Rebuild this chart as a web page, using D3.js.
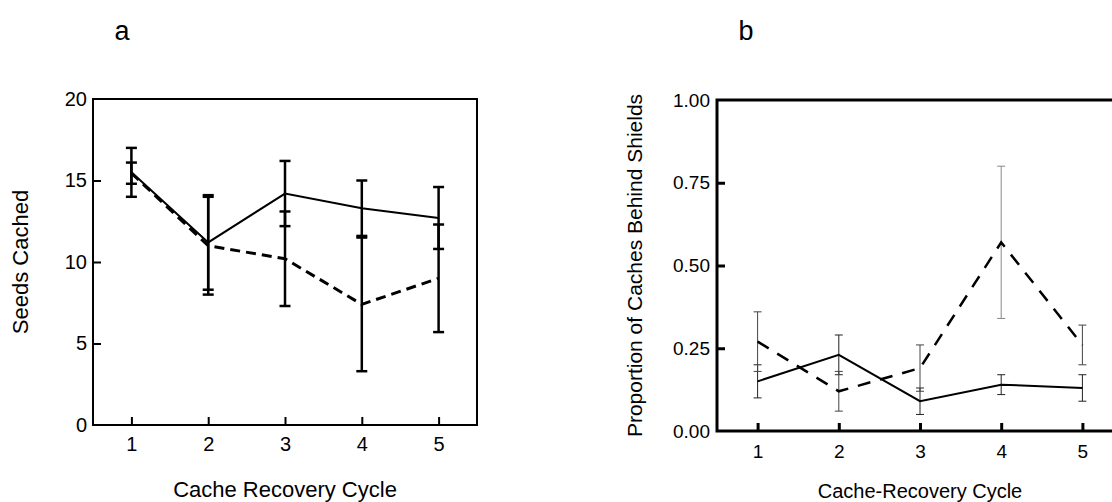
<!DOCTYPE html>
<html>
<head>
<meta charset="utf-8">
<script src="https://cdn.jsdelivr.net/npm/d3@7"></script>
<style>
  html, body { margin: 0; padding: 0; background: #fff; }
  svg { display: block; font-family: "Liberation Sans", Arial, sans-serif; }
</style>
</head>
<body>
<svg id="chart" width="1112" height="502"></svg>
<script>
// ---------- data ----------
const cycles = [1, 2, 3, 4, 5];

// panel a: seeds cached
const seedsSolid     = [15.5, 11.2, 14.2, 13.3, 12.7];
const seedsSolidErr  = [1.5, 2.9, 2.0, 1.7, 1.9];
const seedsDashed    = [15.45, 11.0, 10.2, 7.4, 9.0];
const seedsDashedErr = [0.65, 3.0, 2.9, 4.1, 3.3];
const seedsTicks     = [0, 5, 10, 15, 20];

// panel b: proportion of caches behind shields
const propSolid     = [0.15, 0.23, 0.09, 0.14, 0.13];
const propSolidErr  = [0.05, 0.06, 0.04, 0.03, 0.04];
const propDashed    = [0.27, 0.12, 0.19, 0.57, 0.26];
const propDashedErr = [0.09, 0.06, 0.07, 0.23, 0.06];
const propTicks     = [0, 0.25, 0.5, 0.75, 1.0];

const svg = d3.select("#chart");
svg.append("rect").attr("width", 1112).attr("height", 502).attr("fill", "#fff");

function panel(opt) {
  const g = svg.append("g");
  const x = d3.scaleLinear().domain([0.5, 5.5]).range([opt.left, opt.right]);
  const y = d3.scaleLinear().domain(opt.yDomain).range([opt.bottom, opt.top]);

  // y axis ticks (inward)
  const ya = g.append("g").attr("transform", `translate(${opt.left},0)`)
    .call(d3.axisLeft(y).tickValues(opt.yTicks).tickFormat(opt.yFormat)
      .tickSize(-opt.tickLen).tickPadding(opt.yPad));
  ya.select(".domain").remove();
  ya.selectAll(".tick line").attr("stroke", "#000").attr("stroke-width", opt.frameW)
    .filter(d => d === opt.yDomain[0] || d === opt.yDomain[1]).remove();
  ya.selectAll(".tick text").attr("font-size", opt.tickFont).attr("fill", "#000")
    .attr("font-family", "Liberation Sans, Arial, sans-serif");

  // x axis ticks (inward)
  const xa = g.append("g").attr("transform", `translate(0,${opt.bottom})`)
    .call(d3.axisBottom(x).tickValues(cycles).tickFormat(d3.format("d"))
      .tickSize(-opt.tickLen).tickPadding(opt.xPad));
  xa.select(".domain").remove();
  xa.selectAll(".tick line").attr("stroke", "#000").attr("stroke-width", opt.frameW);
  xa.selectAll(".tick text").attr("font-size", opt.tickFont).attr("fill", "#000")
    .attr("font-family", "Liberation Sans, Arial, sans-serif");

  // frame
  g.append("rect")
    .attr("x", opt.left).attr("y", opt.top)
    .attr("width", opt.right - opt.left).attr("height", opt.bottom - opt.top)
    .attr("fill", "none").attr("stroke", "#000").attr("stroke-width", opt.frameW);

  // error bars
  function errBars(vals, errs, colorFn, w) {
    const eg = g.append("g");
    cycles.forEach((c, i) => {
      const cx = x(c), y1 = y(vals[i] + errs[i]), y0 = y(vals[i] - errs[i]);
      const col = colorFn(i);
      eg.append("line").attr("x1", cx).attr("x2", cx).attr("y1", y1).attr("y2", y0)
        .attr("stroke", col).attr("stroke-width", w);
      [y1, y0].forEach(yy => eg.append("line")
        .attr("x1", cx - opt.capW / 2).attr("x2", cx + opt.capW / 2)
        .attr("y1", yy).attr("y2", yy).attr("stroke", col).attr("stroke-width", w));
    });
  }
  errBars(opt.solid, opt.solidErr, opt.solidErrColor, opt.errW);
  errBars(opt.dashed, opt.dashedErr, opt.dashedErrColor, opt.errW);

  const line = d3.line().x((d, i) => x(cycles[i])).y(d => y(d));
  g.append("path").datum(opt.dashed).attr("d", line).attr("fill", "none")
    .attr("stroke", "#000").attr("stroke-width", opt.dashW)
    .attr("stroke-dasharray", opt.dash);
  g.append("path").datum(opt.solid).attr("d", line).attr("fill", "none")
    .attr("stroke", "#000").attr("stroke-width", opt.solidW);

  // titles
  g.append("text").attr("x", opt.xTitleX(x)).attr("y", opt.xTitleY)
    .attr("text-anchor", "middle").attr("font-size", opt.xTitleFont).text(opt.xTitle);
  g.append("text")
    .attr("transform", `translate(${opt.yTitleX},${(opt.top + opt.bottom) / 2}) rotate(-90)`)
    .attr("text-anchor", "middle").attr("font-size", opt.yTitleFont).text(opt.yTitle);
  g.append("text").attr("x", opt.letterX).attr("y", 40).attr("text-anchor", "middle")
    .attr("font-size", 27).text(opt.letter);
}

panel({
  left: 93, right: 477, top: 99, bottom: 425,
  yDomain: [0, 20], yTicks: seedsTicks, yFormat: d3.format("d"),
  tickLen: 8, yPad: 6, xPad: 12, tickFont: 20, frameW: 2,
  solid: seedsSolid, solidErr: seedsSolidErr,
  dashed: seedsDashed, dashedErr: seedsDashedErr,
  solidErrColor: () => "#000", dashedErrColor: () => "#000",
  errW: 2.5, capW: 11, solidW: 2, dashW: 3, dash: "10,6",
  xTitle: "Cache Recovery Cycle", xTitleX: x => 285, xTitleY: 497, xTitleFont: 22,
  yTitle: "Seeds Cached", yTitleX: 28, yTitleFont: 22,
  letter: "a", letterX: 122
});

panel({
  left: 717, right: 1123, top: 100, bottom: 431,
  yDomain: [0, 1], yTicks: propTicks, yFormat: d3.format(".2f"),
  tickLen: 8, yPad: 7, xPad: 14, tickFont: 19, frameW: 3,
  solid: propSolid, solidErr: propSolidErr,
  dashed: propDashed, dashedErr: propDashedErr,
  solidErrColor: () => "#222", dashedErrColor: i => (i === 3 ? "#888" : "#444"),
  errW: 1, capW: 8, solidW: 2, dashW: 2.5, dash: "13,10",
  xTitle: "Cache-Recovery Cycle", xTitleX: x => x(3), xTitleY: 498, xTitleFont: 20,
  yTitle: "Proportion of Caches Behind Shields", yTitleX: 642, yTitleFont: 21,
  letter: "b", letterX: 746
});
</script>
</body>
</html>
